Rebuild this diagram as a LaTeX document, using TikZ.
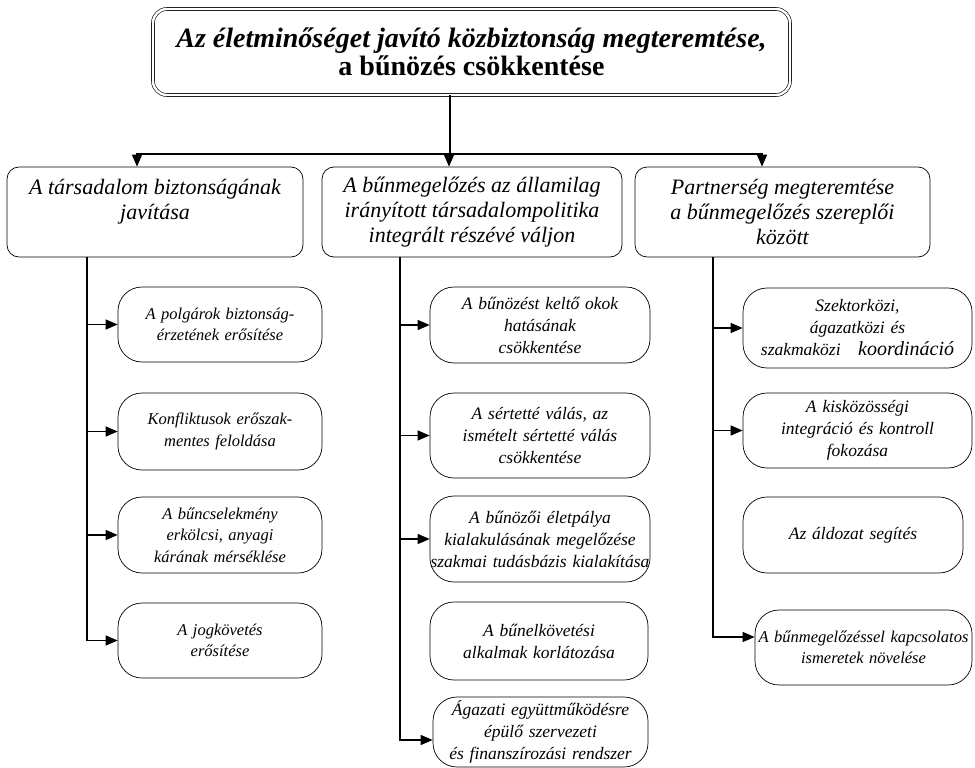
\documentclass[tikz,border=0pt]{standalone}
\usepackage{fontspec}
\setmainfont{Liberation Serif}
\usetikzlibrary{arrows.meta}

\begin{document}
\begin{tikzpicture}[x=1pt, y=-1pt,
    mainbox/.style={draw, double, double distance=2.4pt, line width=0.6pt, rounded corners=14pt,
        minimum width=637pt, minimum height=86pt, align=center, inner sep=0pt,
        font=\bfseries\fontsize{28}{28}\selectfont},
    catbox/.style={draw, line width=0.7pt, rounded corners=12pt, minimum height=90pt,
        align=center, inner sep=0pt, font=\itshape\fontsize{22}{25}\selectfont},
    subbox/.style={draw, line width=0.7pt, rounded corners=24pt, align=center, inner sep=0pt,
        font=\itshape\fontsize{16.5}{21.5}\selectfont},
    bigsub/.style={subbox, font=\itshape\fontsize{17.5}{22}\selectfont},
    link/.style={line width=1.3pt},
    arr/.style={line width=1.3pt, -{Triangle[length=12pt, width=10pt]}}]
    \useasboundingbox (0,0) rectangle (975,768);
    % Nodes
    \node[mainbox] (goal) at (471.5,52) {\textit{Az életminőséget javító közbiztonság megteremtése,}\\ a bűnözés csökkentése};
    \node[catbox, minimum width=296pt] (tars) at (155,212) {A társadalom biztonságának\\ javítása\\ \mbox{}};
    \node[catbox, minimum width=300pt] (bun) at (472,212) {A bűnmegelőzés az államilag\\ irányított társadalompolitika\\ integrált részévé váljon};
    \node[catbox, minimum width=295pt] (part) at (782.5,212) {Partnerség megteremtése\\ a bűnmegelőzés szereplői\\ között};
    % left column
    \node[subbox, text width=204pt, minimum height=75pt] (l1) at (220,324.5) {A polgárok biztonság-\\ érzetének erősítése};
    \node[subbox, text width=204pt, minimum height=77pt] (l2) at (220,431.5) {Konfliktusok erőszak-\\ mentes feloldása};
    \node[subbox, text width=204pt, minimum height=76pt] (l3) at (220,535) {A bűncselekmény\\ erkölcsi, anyagi\\ kárának mérséklése};
    \node[subbox, text width=204pt, minimum height=75pt] (l4) at (220,640.5) {A jogkövetés\\ erősítése};
    % middle column
    \node[bigsub, text width=220pt, minimum height=76pt] (m1) at (540,325) {A bűnözést keltő okok\\ hatásának\\ csökkentése};
    \node[bigsub, text width=220pt, minimum height=85pt] (m2) at (540,435.5) {A sértetté válás, az\\ ismételt sértetté válás\\ csökkentése};
    \node[bigsub, text width=220pt, minimum height=86pt] (m3) at (540,539) {A bűnözői életpálya\\ kialakulásának megelőzése\\ \mbox{szakmai tudásbázis kialakítása}};
    \node[bigsub, text width=218pt, minimum height=78pt] (m4) at (539,641) {A bűnelkövetési\\ alkalmak korlátozása};
    \node[bigsub, text width=215pt, minimum height=70pt] (m5) at (540.5,732) {Ágazati együttműködésre\\ épülő szervezeti\\ és finanszírozási rendszer};
    % right column
    \node[bigsub, text width=229pt, minimum height=80pt] (r1) at (857.5,328) {Szektorközi,\\ ágazatközi és\\ szakmaközi\quad{\fontsize{20}{22}\selectfont koordináció}};
    \node[bigsub, text width=229pt, minimum height=75pt] (r2) at (857.5,430.5) {A kisközösségi\\ integráció és kontroll\\ fokozása};
    \node[bigsub, text width=220pt, minimum height=76pt] (r3) at (853,535) {Az áldozat segítés};
    \node[subbox, text width=217pt, minimum height=75pt] (r4) at (863.5,647.5) {\mbox{A bűnmegelőzéssel kapcsolatos}\\ ismeretek növelése};
    % Edges
    \coordinate (hub) at (450,154);
    \draw[link] ([xshift=-21.5pt]goal.south) -- (hub);
    \draw[arr] (hub) -| ([xshift=-18pt]tars.north);
    \draw[arr] (hub) -| ([xshift=-23pt]bun.north);
    \draw[arr] (hub) -| ([xshift=-20.5pt]part.north);
    \draw[arr] ([xshift=-68pt]tars.south) coordinate (lspine) |- (l4.west);
    \draw[arr] (lspine |- l1.west) -- (l1.west);
    \draw[arr] (lspine |- l2.west) -- (l2.west);
    \draw[arr] (lspine |- l3.west) -- (l3.west);
    \draw[arr] ([xshift=-72pt]bun.south) coordinate (mspine) |- ([yshift=-8pt]m5.west);
    \draw[arr] (mspine |- m1.west) -- (m1.west);
    \draw[arr] (mspine |- m2.west) -- (m2.west);
    \draw[arr] (mspine |- m3.west) -- (m3.west);
    \draw[arr] ([xshift=-69.5pt]part.south) coordinate (rspine) |- ([yshift=10.5pt]r4.west);
    \draw[arr] (rspine |- r1.west) -- (r1.west);
    \draw[arr] (rspine |- r2.west) -- (r2.west);
\end{tikzpicture}
\end{document}
